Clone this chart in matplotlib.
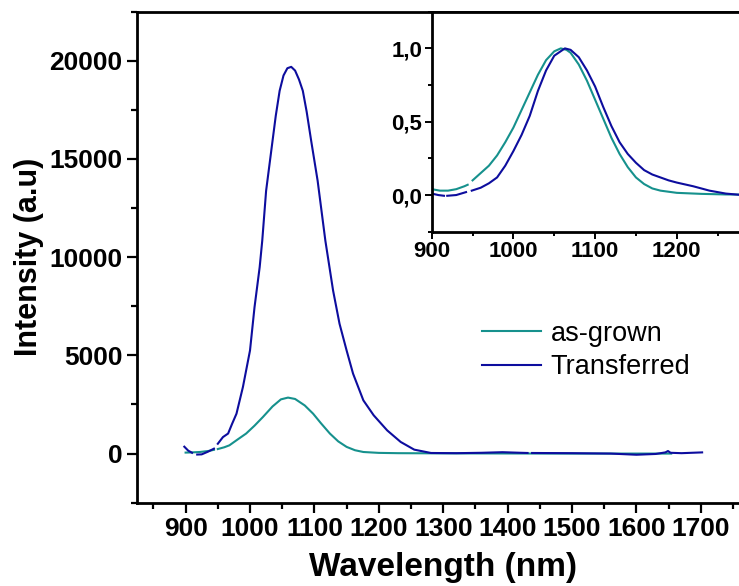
import matplotlib
matplotlib.use('Agg')
import matplotlib.pyplot as plt
from matplotlib.ticker import MultipleLocator, FuncFormatter
import numpy as np

nan = np.nan

# main panel: as-grown
wl_grown = [900, 910, 922, 935, 944, nan, 950, 960, 968, 980, 994, 1007, 1020, 1035, 1048, 1059,
            1070, 1085, 1098, 1110, 1124, 1137, 1150, 1163, 1176, 1200, 1230, 1300, 1400, 1500,
            1600, 1654]
int_grown = [50, 60, 80, 130, 190, nan, 230, 320, 420, 700, 1020, 1420, 1860, 2400, 2760, 2850,
             2780, 2450, 2030, 1550, 1020, 620, 340, 170, 80, 35, 20, 10, 5, 0, 0, 0]

# main panel: transferred
wl_trans = [898, 904, 910, nan, 918, 925, 935, 944, nan, 950, 958, 966, 972, 979, 989, 1000, 1007,
            1015, 1019, 1025, 1033, 1040, 1046, 1052, 1058, 1064, 1070, 1076, 1082, 1088, 1095,
            1105, 1117, 1129, 1139, 1150, 1160, 1176, 1192, 1213, 1234, 1255, 1281, 1320, 1360,
            1392, 1420, 1431, nan, 1438, 1500, 1560, 1600, 1630, 1645, 1649, 1653, 1670, 1702]
int_trans = [350, 150, 40, nan, -50, -40, 100, 250, nan, 500, 840, 1020, 1500, 2030, 3390, 5250,
             7450, 9490, 10840, 13380, 15420, 17200, 18470, 19250, 19620, 19690, 19500, 19050,
             18470, 17400, 15920, 13890, 10840, 8300, 6610, 5250, 4070, 2710, 1950, 1180, 590,
             200, 30, 20, 40, 70, 40, 30, nan, 30, 20, 0, -60, -20, 60, 130, 40, 20, 60]

# inset: normalised spectra
wl_grown_n = [900, 910, 920, 930, 940, 944, nan, 950, 960, 970, 980, 990, 1000, 1010, 1020, 1030,
              1040, 1050, 1058, 1065, 1070, 1080, 1090, 1100, 1110, 1120, 1130, 1140, 1150, 1160,
              1170, 1180, 1200, 1230, 1260, 1300]
norm_grown = [0.04, 0.03, 0.03, 0.04, 0.06, 0.07, nan, 0.10, 0.15, 0.20, 0.27, 0.36, 0.46, 0.58,
              0.70, 0.82, 0.92, 0.98, 1.0, 0.99, 0.97, 0.89, 0.78, 0.65, 0.52, 0.39, 0.28, 0.19,
              0.12, 0.075, 0.045, 0.03, 0.015, 0.008, 0.004, 0.002]

wl_trans_n = [900, 908, 915, nan, 919, 930, 942, nan, 949, 960, 970, 980, 990, 1000, 1010, 1020,
              1030, 1040, 1050, 1063, 1070, 1080, 1090, 1100, 1110, 1120, 1130, 1140, 1150, 1160,
              1170, 1180, 1190, 1200, 1220, 1240, 1260, 1280, 1300]
norm_trans = [0.01, 0.0, -0.005, nan, -0.005, 0.0, 0.02, nan, 0.03, 0.05, 0.08, 0.12, 0.20, 0.30,
              0.41, 0.54, 0.71, 0.85, 0.95, 1.0, 0.99, 0.94, 0.85, 0.74, 0.60, 0.47, 0.36, 0.28,
              0.22, 0.17, 0.14, 0.12, 0.10, 0.085, 0.06, 0.03, 0.01, 0.0, 0.0]

teal = '#16918d'
navy = '#0d0d9e'

plt.rcParams['font.family'] = ['Liberation Sans', 'DejaVu Sans']

fig = plt.figure(figsize=(7.39, 5.86), dpi=100)
ax = fig.add_axes([0.1858, 0.1422, 0.8279, 0.8379])

ax.plot(wl_grown, int_grown, color=teal, lw=1.5, label='as-grown')
ax.plot(wl_trans, int_trans, color=navy, lw=1.5, label='Transferred')

ax.set_xlim(825, 1775)
ax.set_ylim(-2500, 22500)
ax.xaxis.set_major_locator(MultipleLocator(100))
ax.xaxis.set_minor_locator(MultipleLocator(50))
ax.yaxis.set_major_locator(MultipleLocator(5000))
ax.yaxis.set_minor_locator(MultipleLocator(2500))
ax.tick_params(which='both', direction='out', width=1.6, top=False, right=False)
ax.tick_params(which='major', length=7, labelsize=19)
ax.tick_params(which='minor', length=4.5)
for lab in ax.get_xticklabels() + ax.get_yticklabels():
    lab.set_fontweight('bold')
for s in ax.spines.values():
    s.set_linewidth(2)
ax.set_xlabel('Wavelength (nm)', fontsize=24, fontweight='bold', labelpad=8)
ax.set_ylabel('Intensity (a.u)', fontsize=22, fontweight='bold', labelpad=4)

ax.legend(loc='upper left', bbox_to_anchor=(0.563, 0.371), frameon=False, fontsize=19.5,
          handlelength=2.2, handletextpad=0.35, labelspacing=0.28, borderaxespad=0,
          borderpad=0)

# inset
ins = fig.add_axes([0.5842, 0.6046, 0.4311, 0.3754])
ins.plot(wl_grown_n, norm_grown, color=teal, lw=1.5)
ins.plot(wl_trans_n, norm_trans, color=navy, lw=1.5)
ins.set_xlim(900, 1290)
ins.set_ylim(-0.25, 1.25)
ins.xaxis.set_major_locator(MultipleLocator(100))
ins.xaxis.set_minor_locator(MultipleLocator(50))
ins.yaxis.set_major_locator(MultipleLocator(0.5))
ins.yaxis.set_minor_locator(MultipleLocator(0.25))
ins.yaxis.set_major_formatter(FuncFormatter(lambda v, p: f'{v:.1f}'.replace('.', ',')))
ins.tick_params(which='both', direction='out', width=1.4, top=False, right=False)
ins.tick_params(which='major', length=5, labelsize=16, pad=2)
ins.tick_params(which='minor', length=3)
for lab in ins.get_xticklabels() + ins.get_yticklabels():
    lab.set_fontweight('bold')
for s in ins.spines.values():
    s.set_linewidth(2)

fig.savefig('out.png', dpi=100)
